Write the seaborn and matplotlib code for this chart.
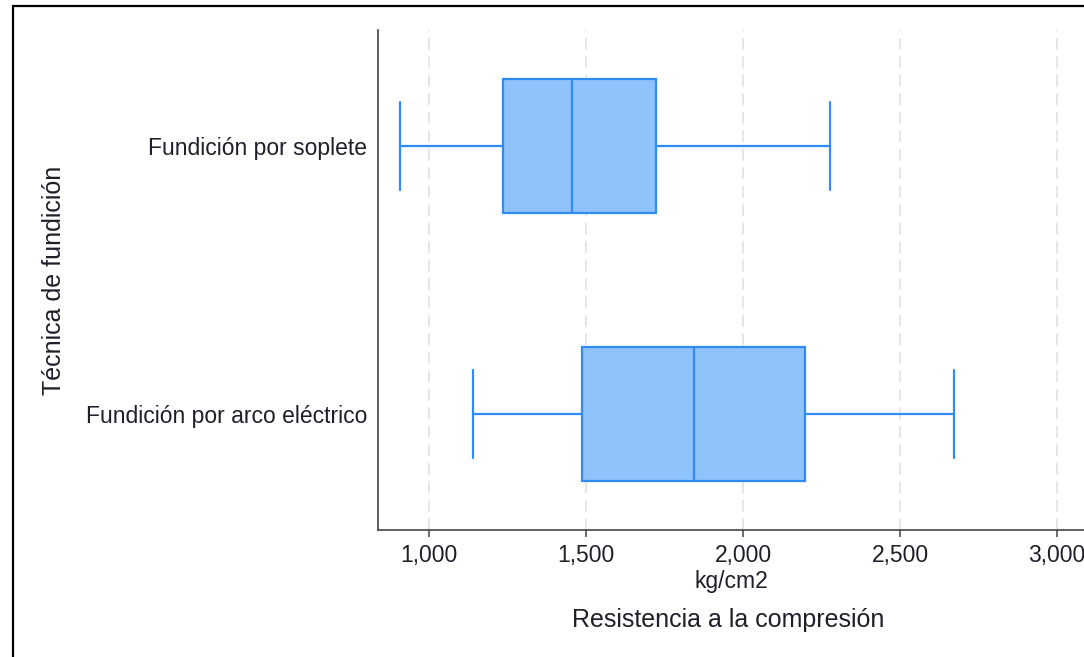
import numpy as np
import pandas as pd
import seaborn as sns
import matplotlib.pyplot as plt
from matplotlib.ticker import FuncFormatter
from matplotlib.patches import Rectangle

# five-number summaries (min, q1, median, q3, max)
tecnicas = ["Fundición por soplete", "Fundición por arco eléctrico"]
soplete = [907, 1236, 1456, 1724, 2276]
arco = [1140, 1488, 1845, 2196, 2671]
xticks = [1000, 1500, 2000, 2500, 3000]


def main():
    sns.set_theme(style="white")
    plt.rcParams["font.family"] = ["Liberation Sans", "DejaVu Sans"]

    df = pd.DataFrame({
        "Técnica de fundición": [tecnicas[0]] * len(soplete) + [tecnicas[1]] * len(arco),
        "Resistencia": soplete + arco,
    })

    fig = plt.figure(figsize=(10.84, 6.57), dpi=100)
    ax = fig.add_axes([378 / 1084, 1 - 530 / 657, 1 - 378 / 1084, 500 / 657])

    for x in xticks:
        ax.axvline(x, color="#e6e6e6", lw=1.4, ls=(0, (6, 3.5)), zorder=0)

    sns.boxplot(
        data=df, x="Resistencia", y="Técnica de fundición", order=tecnicas,
        orient="h", color="#90C2FC", saturation=1, linecolor="#2F8CF7",
        linewidth=1.6, width=0.5, whis=np.inf, capwidths=0.33, ax=ax,
    )

    ax.set_xlim(837, 3086)
    ax.set_ylim(1.433, -0.433)
    ax.set_xticks(xticks)
    ax.xaxis.set_major_formatter(FuncFormatter(lambda v, p: f"{v:,.0f}"))

    for s in ["top", "right"]:
        ax.spines[s].set_visible(False)
    for s in ["left", "bottom"]:
        ax.spines[s].set_color("#444444")
        ax.spines[s].set_linewidth(1.2)

    ax.tick_params(axis="x", which="major", bottom=True, length=5, width=1.1,
                   color="#444444", labelsize=16.5, labelcolor="#1f1f2a", pad=5)
    ax.tick_params(axis="y", length=0, labelsize=16.5, labelcolor="#1f1f2a", pad=8)

    ax.set_xlabel("kg/cm2", fontsize=16.5, color="#1f1f2a", labelpad=2)
    ax.set_ylabel("Técnica de fundición", fontsize=18, color="#1f1f2a", labelpad=14)
    fig.text(728 / 1084, 1 - 620 / 657, "Resistencia a la compresión", fontsize=18,
             color="#1f1f2a", ha="center", va="center")

    # frame around the picture (only left and top edges show)
    fig.add_artist(Rectangle((13 / 1084, -0.1), 1.2, 1.1 - 6 / 657, fill=False,
                             edgecolor="black", lw=1.6, transform=fig.transFigure))

    fig.savefig("out.png", dpi=100, facecolor="white")


if __name__ == "__main__":
    main()
